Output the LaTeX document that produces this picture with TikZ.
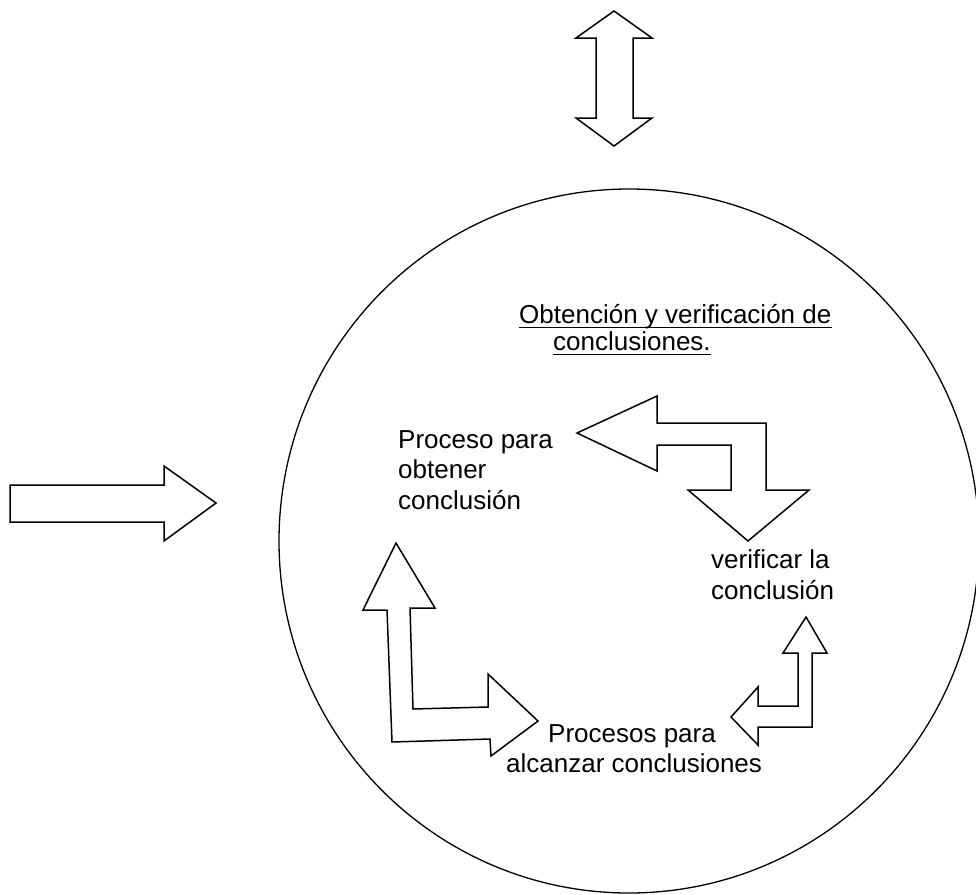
\documentclass[tikz,border=0pt]{standalone}
\usepackage{fontspec}
\setmainfont{Liberation Sans}
\begin{document}
\begin{tikzpicture}[x=1pt,y=-1pt,
  blockarrow/.style={draw, line width=1.5pt, line join=miter, fill=white},
  lbl/.style={anchor=base west, inner sep=0pt, font=\fontsize{26}{30}\selectfont},
  uline/.style={line width=1.3pt}]
\useasboundingbox (0,0) rectangle (976,894);
\clip (0,0) rectangle (976,894);
% big circle
\draw[line width=1.3pt] (629,541) ellipse [x radius=350, y radius=352];
% top double arrow
\draw[blockarrow] (614,11) -- (652,38) -- (633,38) -- (633,118) -- (652,118) -- (614,146)
  -- (576,118) -- (596,118) -- (596,38) -- (576,38) -- cycle;
% left arrow
\draw[blockarrow] (10,485) -- (164,485) -- (164,466) -- (216,503) -- (164,541) -- (164,522)
  -- (10,522) -- cycle;
% top bent arrow (left / down)
\draw[blockarrow] (577,433) -- (657,396) -- (657,423) -- (766,423) -- (766,490) -- (809,490)
  -- (748,541) -- (688,490) -- (731,490) -- (731,445) -- (657,445) -- (657,471) -- cycle;
% bottom-left bent arrow (up / right)
\draw[blockarrow] (396,543) -- (435,608) -- (410,608) -- (413,709) -- (488,707) -- (488,674)
  -- (538,721) -- (491,756) -- (490,739) -- (392,742) -- (387,610) -- (363,610) -- cycle;
% bottom-right bent arrow (up / left)
\draw[blockarrow] (806,617) -- (827,653) -- (812,653) -- (812,727) -- (758,727) -- (758,745)
  -- (731,717) -- (758,687) -- (758,706) -- (798,706) -- (798,653) -- (783,653) -- cycle;
% title
\node[lbl] (t1) at (519,323) {Obtención y verificación de};
\node[lbl] (t2) at (553,350) {conclusiones.};
\draw[uline] ([yshift=-4.5pt]t1.base west) -- ([yshift=-4.5pt]t1.base east);
\draw[uline] ([yshift=-4.5pt]t2.base west) -- ([yshift=-4.5pt]t2.base east);
% labels
\node[lbl] (p1) at (398,448) {Proceso para};
\node[lbl] (p2) at (398,478) {obtener};
\node[lbl] (p3) at (398,509) {conclusión};
\node[lbl] (v1) at (711,568) {verificar la};
\node[lbl] (v2) at (711,599) {conclusión};
\node[lbl] (a1) at (548,742) {Procesos para};
\node[lbl] (a2) at (506,772) {alcanzar conclusiones};
\end{tikzpicture}
\end{document}
